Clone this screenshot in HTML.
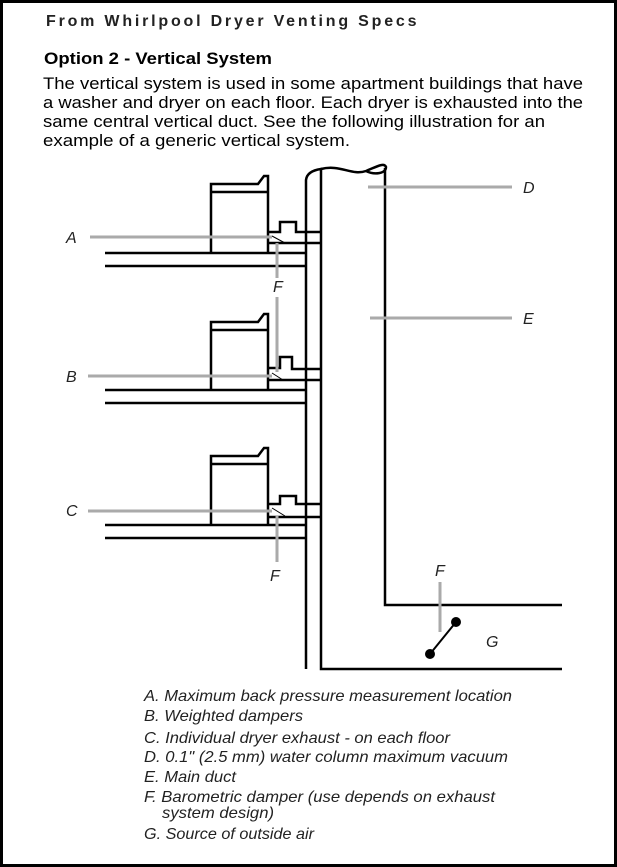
<!DOCTYPE html>
<html><head><meta charset="utf-8"><style>
html,body{margin:0;padding:0;background:#fff}
svg{display:block}
text{font-family:"Liberation Sans",sans-serif}
</style></head><body>
<svg width="617" height="867" viewBox="0 0 617 867" xmlns="http://www.w3.org/2000/svg">
<rect x="1.5" y="1.5" width="614" height="864" fill="#fff" stroke="#000" stroke-width="3"/>
<text x="46" y="26" font-size="16" font-weight="bold" letter-spacing="1.5" fill="#222" textLength="372">From Whirlpool Dryer Venting Specs</text>
<text x="44" y="64" font-size="17" font-weight="bold" textLength="228" lengthAdjust="spacingAndGlyphs">Option 2 - Vertical System</text>
<g font-size="17" fill="#000">
<text x="43" y="89" textLength="540" lengthAdjust="spacingAndGlyphs">The vertical system is used in some apartment buildings that have</text>
<text x="43" y="108" textLength="540" lengthAdjust="spacingAndGlyphs">a washer and dryer on each floor. Each dryer is exhausted into the</text>
<text x="43" y="127" textLength="502" lengthAdjust="spacingAndGlyphs">same central vertical duct. See the following illustration for an</text>
<text x="43" y="146" textLength="307" lengthAdjust="spacingAndGlyphs">example of a generic vertical system.</text>
</g>
<g stroke="#000" stroke-width="2.5" fill="none">
<path d="M306 669 V180 Q307 171 321 169 V669 H562"/>
<path d="M321 169 C340 164 352 176 366 171 C376 167 384 162 386 167 C386 174 374 175 366 171"/>
<path d="M385 168 V605 H562"/>
<path d="M105 253 H306 M105 266 H306 M105 390 H306 M105 403 H306 M105 525 H306 M105 538 H306"/>
<path d="M211 253 V184 H258 L264 176 H268 V253 M211 192 H268"/>
<path d="M211 390 V322 H258 L264 314 H268 V390 M211 330 H268"/>
<path d="M211 525 V456 H258 L264 448 H268 V525 M211 464 H268"/>
<path d="M268 232 H280 V222 H296 V232 H321 M268 243 H321"/>
<path d="M268 368 H280 V357 H292 V369 H321 M268 380 H321"/>
<path d="M268 504 H280 V496 H296 V504 H321 M268 517 H321"/>
</g>
<g stroke="#000" stroke-width="1"><path d="M272 236 L285 243 M272 373 L283 380 M272 508 L285 516"/></g>
<g stroke="#aaa" stroke-width="3">
<path d="M90 237 H272 M88 376 H272 M88 511 H272"/>
<path d="M277 243 V278 M277 297 V372 M277 516 V562"/>
<path d="M368 187 H512 M370 318 H512 M440 582 V632"/>
</g>
<g stroke="#000" stroke-width="2"><path d="M430 654 L456 622"/></g>
<circle cx="430" cy="654" r="5" fill="#000"/><circle cx="456" cy="622" r="5" fill="#000"/>
<g font-size="16" font-style="italic" fill="#222">
<text x="66" y="243">A</text><text x="66" y="382">B</text><text x="66" y="516">C</text>
<text x="273" y="292">F</text><text x="270" y="581">F</text>
<text x="523" y="193">D</text><text x="523" y="324">E</text>
<text x="435" y="576">F</text><text x="486" y="647">G</text>
</g>
<g font-size="16" font-style="italic" fill="#222">
<text x="144" y="701" textLength="368" lengthAdjust="spacingAndGlyphs">A. Maximum back pressure measurement location</text>
<text x="144" y="721" textLength="159" lengthAdjust="spacingAndGlyphs">B. Weighted dampers</text>
<text x="144" y="743" textLength="306" lengthAdjust="spacingAndGlyphs">C. Individual dryer exhaust - on each floor</text>
<text x="144" y="762" textLength="364" lengthAdjust="spacingAndGlyphs">D. 0.1" (2.5 mm) water column maximum vacuum</text>
<text x="144" y="782" textLength="92" lengthAdjust="spacingAndGlyphs">E. Main duct</text>
<text x="144" y="802" textLength="351" lengthAdjust="spacingAndGlyphs">F. Barometric damper (use depends on exhaust</text>
<text x="162" y="818" textLength="112" lengthAdjust="spacingAndGlyphs">system design)</text>
<text x="144" y="839" textLength="170" lengthAdjust="spacingAndGlyphs">G. Source of outside air</text>
</g>
</svg>
</body></html>
